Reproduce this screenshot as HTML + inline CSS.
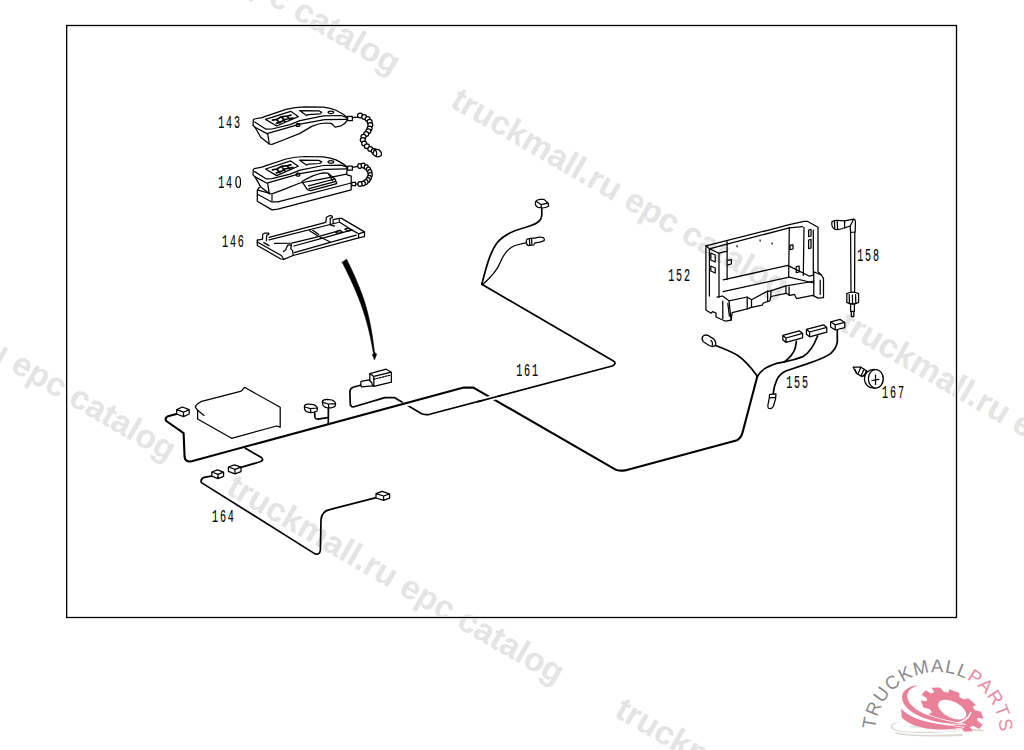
<!DOCTYPE html>
<html><head><meta charset="utf-8"><title>EPC diagram</title>
<style>
html,body{margin:0;padding:0;background:#fff;width:1024px;height:750px;overflow:hidden}
svg{position:absolute;left:0;top:0}
.wm{font-family:"Liberation Sans",sans-serif;font-weight:bold;font-size:33.3px;fill:#e4e4e4}
.lbl{font-family:"Liberation Mono",monospace;font-size:18px;letter-spacing:3.3px;fill:#000;stroke:#000;stroke-width:0.15px}
.k{fill:none;stroke:#000;stroke-width:1.25;stroke-linejoin:round;stroke-linecap:round}
.w{fill:none;stroke:#000;stroke-width:2.1;stroke-linejoin:round;stroke-linecap:round}
.w2{fill:none;stroke:#000;stroke-width:1.7;stroke-linejoin:round;stroke-linecap:round}
.kf{fill:#fff;stroke:#000;stroke-width:1.25;stroke-linejoin:round}
.gap{fill:none;stroke:#fff;stroke-width:5;stroke-linecap:butt}
</style></head>
<body>
<svg width="1024" height="750" viewBox="0 0 1024 750">
<g id="wms">
<text transform="translate(224.8,492.7) rotate(30.1)" class="wm">truckmall.ru epc catalog</text>
<text transform="translate(449.0,106.0) rotate(30.1)" class="wm">truckmall.ru epc catalog</text>
<text transform="translate(60.6,-117.0) rotate(30.1)" class="wm">truckmall.ru epc catalog</text>
<text transform="translate(-163.6,269.7) rotate(30.1)" class="wm">truckmall.ru epc catalog</text>
<text transform="translate(837.4,329.0) rotate(30.1)" class="wm">truckmall.ru epc catalog</text>
<text transform="translate(613.2,715.7) rotate(30.1)" class="wm">truckmall.ru epc catalog</text>
</g>
<rect x="66.65" y="25.5" width="889.85" height="592" fill="none" stroke="#fff" stroke-width="3.4"/>
<rect x="66.65" y="25.5" width="889.85" height="592" fill="none" stroke="#000" stroke-width="1.3"/>
<g id="labels">
<text transform="translate(218.2,128.1) scale(0.56,1)" class="lbl">143</text>
<text transform="translate(218.2,187.6) scale(0.56,1)" class="lbl">14</text>
<text transform="translate(222.0,246.5) scale(0.56,1)" class="lbl">146</text>
<text transform="translate(668.2,280.5) scale(0.56,1)" class="lbl">152</text>
<text transform="translate(857.2,261.4) scale(0.56,1)" class="lbl">158</text>
<text transform="translate(516.2,376.4) scale(0.56,1)" class="lbl">161</text>
<text transform="translate(786.2,387.6) scale(0.56,1)" class="lbl">155</text>
<text transform="translate(882.1,398.3) scale(0.56,1)" class="lbl">167</text>
<text transform="translate(212.0,521.6) scale(0.56,1)" class="lbl">164</text>
<ellipse cx="238.2" cy="182" rx="2.3" ry="5.5" fill="none" stroke="#000" stroke-width="1.2"/>
</g>
<g id="diagram">
<path class="w2" d="M360.5,385.3 L353,387.2 Q349.8,388.8 349.9,392 L350.3,404.5 Q351,407.6 354,406.7 L384.9,397.6 L394.3,397.6 L421.2,413.6 Q424,415 429.6,414.3 L612.2,366 Q617.5,363.5 613,360.8 L481.8,284.3" />
<path d="M398,406.3 L412,402.5" stroke="#fff" stroke-width="5" fill="none"/>
<path class="w" d="M177.3,413.8 L168,416.3 Q164.3,418 166.3,421 L183.6,433.2 L184.6,457 Q185.3,462.2 190.8,461.4 L463.7,387.6 L473.4,387.6 L615.6,469.6 Q618.2,471 625,470.4 L736.2,440.6 Q741.6,438 742.8,431.5 L757.3,376.4" />
<path d="M482,400.6 L498,396.3" stroke="#fff" stroke-width="5" fill="none"/>
<path class="w2" d="M478,401.6 L502,395.2" />
<path class="w2" d="M481.8,284.3 C486,268 490,252 497,243 C503,235 512,231 525,227.5 C535,224.5 541.5,222 541.8,215 L541.8,208.2" />
<path class="k" d="M482.5,284.8 C490,278 497,271 500,263 C504,253 508,248 515,245.5 L526.5,242.6" stroke-width="1.3"/>
<path class="kf" d="M535.6,201.6 Q537,199.6 540,199.4 L544,199.4 L548.2,203.2 L548.6,206.2 Q546,207.8 542,208 L538,207.4 Q535.2,206 535.4,203.6 Z M536.6,201.6 L541,204.6 L547.8,203.2 M541,204.6 L541.4,208" />
<path class="kf" d="M526.4,240 Q527,238.6 529,238.6 L532.6,238.2 L535,238.2 Q538,237 540,237 L543,237.6 Q545,239 544.2,240.6 L540,242.2 L535,242.8 L533.8,245 L528.4,245.6 Q526.2,244.6 526.4,242 Z M529.4,238.8 L529.8,245.4 M531.6,238.6 L532,245.2" />
<path class="w2" d="M212.6,475.8 L204.2,477.4 Q200.2,479 201.4,482.6 L314.6,553.6 Q319.8,555.4 320.4,550 L321,520 Q321.6,511.2 329.6,509.6 L377.2,497.4" />
<path class="w2" d="M245.4,448.2 L261.4,457.6 Q264.4,460.4 260.2,461.8 L240,467.6" />
<path class="kf" d="M176.7,409.6 L182.4,407.0 L189.2,409.6 L189.2,414.0 L183.5,416.6 L176.7,414.0 Z M176.7,409.6 L183.5,412.2 L189.2,409.6 M183.5,412.2 L183.5,416.6" />
<path class="kf" d="M211.8,472.0 L217.4,469.8 L223.6,472.2 L223.6,476.4 L218.0,478.6 L211.8,476.2 Z M211.8,472.0 L218.0,474.4 L223.6,472.2 M218.0,474.4 L218.0,478.6" />
<path class="kf" d="M228.4,467.0 L234.4,464.8 L241.0,467.2 L241.0,471.6 L235.0,473.8 L228.4,471.4 Z M228.4,467.0 L235.0,469.4 L241.0,467.2 M235.0,469.4 L235.0,473.8" />
<path class="kf" d="M376.0,493.6 L382.0,491.4 L389.6,493.8 L389.6,498.2 L383.6,500.4 L376.0,498.0 Z M376.0,493.6 L383.6,496.0 L389.6,493.8 M383.6,496.0 L383.6,500.4" />
<path class="kf" d="M304.4,406.2 Q305,404 308.4,404.2 L313.6,404.6 Q317.4,406.2 317.4,408.6 L317,411 Q314,412.8 310,412.6 L306.6,411.6 Q304,410.2 304.4,406.2 Z M305,407 L310.4,408.6 L317.2,408 M310.4,408.6 L310.8,412.4" />
<path class="kf" d="M322.4,401.4 Q323.4,399.4 327,399.4 L332,400 Q335.8,401.8 335.6,404.2 L335,406.4 Q332,408.2 328,408 L325,407.2 Q322.2,405.6 322.4,401.4 Z M323,402.4 L328.4,404 L335.4,403.6 M328.4,404 L328.8,407.8" />
<path class="w2" d="M314.6,412.6 L314.9,417.4 Q315.4,419.4 318,419.2 L327.6,417.6" />
<path class="w2" d="M328.4,408 L328.3,423.4" />
<path class="kf" d="M369.8,373.6 L386.2,369.2 L391.4,372.2 L391.4,382.2 L373.8,386.4 L369.8,383.4 Z M369.8,373.6 L373.8,376.4 L391.4,372.2 M373.8,376.4 L373.8,386.4" />
<path class="k" d="M373.8,379.2 L391,375" stroke-dasharray="1.6,1.4" stroke-width="0.9"/>
<path class="kf" d="M361,381.4 L369,379.8 L372,383 L372.4,385.8 L361.4,386.8 Q360.2,385 361,381.4 Z" />
<path class="k" d="M342.2,262.2 L346.6,259.2 C352.5,271 358,283 362.6,296 C367.6,310 371.8,328 374.5,352.5 L373.3,352.6 C369.8,331 364.6,313 358.6,298 C353.6,285 347.6,273 342.2,262.2 Z" style="fill:#000;stroke-width:0.6"/>
<path class="k" d="M372.4,354.4 L374.6,352.2 L376.6,354.2 L374.6,359.6 Z" style="fill:#000;stroke-width:0.6"/>
<path class="k" d="M253.3,120 L254.2,119 L262,117.6 L265.3,116.3 L286,109.4 C292,107.8 298,107 305,106.9 L323.4,107.2 C329,107.8 333,109 336,110.3 C340,112.4 344,114.6 347.2,117.4 L347,120.6 C346,122.6 344,124.4 341,125.8 L335.2,127.2 C333.6,125.6 332.4,123.8 331,123.4 L325.2,123 C321,123.2 317,124 311.7,126.4 L300,133.4 L283.3,140 L272,144.3 L269.3,144 L260.7,137.3 L255,127.3 L253,125.3 Z" transform="translate(0,0)"/>
<path class="k" d="M254.7,122 L266,129.2 L272,129 L290,124.6 L300,120.6 L323.4,115.9 L341,115.5 L347,117.6" transform="translate(0,0)"/>
<path class="k" d="M255,127.3 L267,133.6 L300,124.1 L324.6,119.7 L347,119.3" transform="translate(0,0)"/>
<path class="k" d="M267.7,134 L269.3,144" transform="translate(0,0)"/>
<path class="k" d="M265.5,119.4 L290.7,111.3 L298.2,116.6 L276.7,126 Z" transform="translate(0,0)"/>
<path class="k" d="M272.4,120.2 L276.8,119.4 L281.2,116.8 L287.4,116 L291,115.2 M276.4,123.4 L282,121.4 L284.6,119.4 L293,118 M276.6,119.6 L280,123 M281.6,117 L285,121.4 M286.8,116.2 L289.8,119.2" transform="translate(0,0)" style="stroke-width:1.7"/>
<path class="k" d="M299.6,110.6 L318.7,110.8 L321.7,112.3 L319.9,113.9 L308.2,114.6 L306.4,115.5 Z" transform="translate(0,0)"/>
<ellipse class="k" cx="330.9" cy="112.3" rx="2.8" ry="1.2"/>
<rect class="k" x="296.2" y="123.6" width="3.6" height="2.8" rx="1"/>
<rect class="kf" x="347.6" y="116.4" width="4.8" height="4.2"/>
<path class="k" d="M352.4,117.6 L357.6,117.2"/>
<ellipse class="kf" cx="360.1" cy="115.5" rx="2.5" ry="2.4"/>
<ellipse class="kf" cx="364.2" cy="116.9" rx="2.5" ry="2.4"/>
<ellipse class="kf" cx="367.6" cy="118.9" rx="2.5" ry="2.4"/>
<ellipse class="kf" cx="369.6" cy="121.7" rx="2.5" ry="2.4"/>
<ellipse class="kf" cx="370.3" cy="125.1" rx="2.5" ry="2.4"/>
<ellipse class="kf" cx="369.6" cy="128.5" rx="2.5" ry="2.4"/>
<ellipse class="kf" cx="368.3" cy="131.2" rx="2.5" ry="2.4"/>
<ellipse class="kf" cx="366.2" cy="134" rx="2.5" ry="2.4"/>
<ellipse class="kf" cx="363.5" cy="136.7" rx="2.5" ry="2.4"/>
<ellipse class="kf" cx="362.8" cy="140.1" rx="2.5" ry="2.4"/>
<ellipse class="kf" cx="364.2" cy="143.5" rx="2.5" ry="2.4"/>
<ellipse class="kf" cx="366.9" cy="146.3" rx="2.5" ry="2.4"/>
<ellipse class="kf" cx="370.3" cy="149" rx="2.5" ry="2.4"/>
<ellipse class="kf" cx="373.7" cy="151.1" rx="2.5" ry="2.4"/>
<path class="kf" d="M374.4,149.2 L378.6,149.6 Q382.4,152 381.2,155.6 Q379,157.4 376,156.4 L372.8,154.2 Z M374.6,149.6 Q377.8,151.6 376.2,156"/>
<path class="k" d="M253.3,120 L254.2,119 L262,117.6 L265.3,116.3 L286,109.4 C292,107.8 298,107 305,106.9 L323.4,107.2 C329,107.8 333,109 336,110.3 C340,112.4 344,114.6 347.2,117.4 L347,121.4 L346.6,124.6 L320,129.8 L300,133.4 L283.3,140 L272,144.3 L269.3,144 L260.7,137.3 L255,127.3 L253,125.3 Z" transform="translate(0,49.6)"/>
<path class="k" d="M254.7,122 L266,129.2 L272,129 L290,124.6 L300,120.6 L323.4,115.9 L341,115.5 L347,117.6" transform="translate(0,49.6)"/>
<path class="k" d="M255,127.3 L267,133.6 L300,124.1 L324.6,119.7 L347,119.3" transform="translate(0,49.6)"/>
<path class="k" d="M267.7,134 L269.3,144" transform="translate(0,49.6)"/>
<path class="k" d="M265.5,119.4 L290.7,111.3 L298.2,116.6 L276.7,126 Z" transform="translate(0,49.6)"/>
<path class="k" d="M272.4,120.2 L276.8,119.4 L281.2,116.8 L287.4,116 L291,115.2 M276.4,123.4 L282,121.4 L284.6,119.4 L293,118 M276.6,119.6 L280,123 M281.6,117 L285,121.4 M286.8,116.2 L289.8,119.2" transform="translate(0,49.6)" style="stroke-width:1.7"/>
<path class="k" d="M299.6,110.6 L318.7,110.8 L321.7,112.3 L319.9,113.9 L308.2,114.6 L306.4,115.5 Z" transform="translate(0,49.6)"/>
<ellipse class="k" cx="330.9" cy="161.9" rx="2.8" ry="1.2"/>
<rect class="k" x="296.2" y="173.2" width="3.6" height="2.8" rx="1"/>
<rect class="kf" x="347.6" y="166.0" width="4.8" height="4.2"/>
<path class="k" d="M259.5,187.2 L257.3,190.2 L257.3,201.2 L272,209.9 L277.9,209.2 L351.2,189.8 L351.2,176.2 L346.8,174.7" />
<path class="k" d="M258,194.5 L271.3,201.8 L277.9,201.8 L351.2,183" />
<path class="k" d="M258,190.2 L269.8,193.4" />
<path class="k" d="M272,195.2 L272,200.4" stroke-dasharray="1.5,1"/>
<path class="k" d="M302,181.6 C308,177.6 315,174.4 323,172.8 L328,173.2 L335,179 L336.8,183.6 L310.6,190.6 L307.4,189.6 Z M308.6,185.8 L334.6,179 M309,188.6 L336,181.4 M328,173.2 L332.6,180.6" />
<path class="k" d="M352.6,167.4 L357.6,166.4 M355.5,184.2 L358,184"/>
<ellipse class="kf" cx="359.8" cy="166" rx="2.1" ry="2.4"/>
<ellipse class="kf" cx="363.3" cy="165.6" rx="2.1" ry="2.4"/>
<ellipse class="kf" cx="366.3" cy="167.3" rx="2.1" ry="2.4"/>
<ellipse class="kf" cx="368.5" cy="169.5" rx="2.1" ry="2.4"/>
<ellipse class="kf" cx="369.8" cy="172.1" rx="2.1" ry="2.4"/>
<ellipse class="kf" cx="370.2" cy="175.1" rx="2.1" ry="2.4"/>
<ellipse class="kf" cx="369.3" cy="177.7" rx="2.1" ry="2.4"/>
<ellipse class="kf" cx="368" cy="179.9" rx="2.1" ry="2.4"/>
<ellipse class="kf" cx="365.9" cy="182.1" rx="2.1" ry="2.4"/>
<ellipse class="kf" cx="363.2" cy="183.4" rx="2.1" ry="2.4"/>
<ellipse class="kf" cx="360" cy="183.9" rx="2.1" ry="2.4"/>
<rect class="kf" x="351.8" y="182.4" width="3.8" height="3.2"/>
<path class="k" d="M257.3,240.2 L257.3,245.5 L280.8,259 L283.7,259.3 L293.1,255.5 L358.6,237.8 L364.5,236.6 L364.5,231.9 L341.6,218.4 L339.3,218.4 L333.1,219.6 L333.1,223.4" />
<path class="k" d="M257.3,240.2 L262.6,239.1 L262.6,234.4 L264.4,233.2 L268.8,233.2 L268.8,234.4 L266.7,235.3 L266.4,240.6" />
<path class="k" d="M257.3,242 L281.4,255.5 L283.7,259.3 M263.8,242.6 L269,245.6" />
<path class="k" d="M269.1,237.4 L325.8,222.4 L326.4,217.3 L329.9,215.5 L332.3,216.1 L332.3,217.6 L330.2,218.4 L330.2,224.9 L334.6,226.1" />
<path class="k" d="M269.1,239.8 L338.1,222.5" />
<path class="k" d="M339.3,219.6 L339.3,222 L351,229.6 L358.6,233.8 L364.5,231.9 M358.6,233.8 L358.6,237.8" />
<path class="k" d="M274.6,243.4 L291.7,243.1 L314.6,237.6 L340.4,230.4" />
<path class="k" d="M294,246 L324.5,237.6 L352.2,229.8" />
<path class="k" d="M294.2,252.6 L340,239.6 L356.2,235.2" />
<path class="k" d="M309.3,230.5 L317.5,235.8 L329.8,241.7 M312.8,230.3 L318.7,234.6" />
<path class="k" d="M283.4,251.6 L285.6,250 L287.6,245.2 L291.6,244.8 L290.6,248.6 L292.6,250.6 L293.1,255.5" />
<path class="k" d="M335.8,232.6 Q337,230.2 339.6,230.4 L342.2,231.8 Q341.4,233.4 338,233.2 Z" />
<path class="k" d="M344.8,229.2 L348,228.2 L351.2,229.8 L348.6,231.2 Z" />
<path class="k" d="M195.3,407.2 C196,404 199,402.6 201.7,401.4 L240.4,391.4 L242.2,390.2 L244.5,387.3 L280.2,407.2 L280.2,427.2 L276.7,426 L231.6,438.3 L197.6,419 L197.6,410.2 Z" />
<path class="k" d="M197.6,410.2 L204.1,415.4" /><path class="k" d="M705.9,245.8 L769.7,229.8 L789.3,224.7 L804,221.3 L807.3,221.3 L818,227.3 L818,271.6 L821.3,275 L823.5,278.3 L823.5,297.6 L818.1,298.1 L812.7,295.4 L796.6,298.7 L794.5,294.4 L790.2,295.4 L785.9,293.3 L770.9,296.5 L769.8,300.8 L763.3,303 L762.3,305.1 L751.5,307.3 L747.2,308.9 L732.2,312.6 L731.1,320.1 L725.7,321.2 L716,317 L716,313 L712.6,311.6 L711,313.2 L705.9,310 Z" />
<path class="k" d="M709.4,248.8 L727.1,244.2 L789.3,227.8 L802.7,226.7" />
<path class="k" d="M727.1,241.6 L727.1,279.6 M789.3,227.3 L788.7,276.7 M804,227.3 L803.3,275.3 M813.3,230 L813.3,274" />
<path class="k" d="M706,245.8 L709.4,248.8 L709.4,296 M719,253.2 L719,297.2 M709.4,248.8 L719,253.2 M719,253.2 L727.1,251.2" />
<path class="k" d="M723.1,279.9 L788,265.4 M723.1,291.7 L789.1,277.2 L809.5,282 L813.8,281 M788.2,265.6 L809.5,276.2 L813.4,275.2" />
<path class="k" d="M729,300.8 L747.2,297 L751.5,299.7 L767.6,291.1 L769.8,291.1 L785.9,285.8 L809.5,282 L813.8,283" />
<path class="k" d="M717.1,297.1 L722.5,296 L729,300.8 L731.1,320.1 M729,300.8 L729.6,305.6" />
<path class="k" d="M747.2,297 L747.2,308.9 M751.5,299.7 L751.5,307.3 M767.6,291.1 L767.6,300.8 M770.9,291.1 L770.9,296.5 M785.9,285.8 L785.9,293.3 M789.1,286.9 L789.1,295.4" />
<path class="k" d="M722.8,301 L722.8,318.4 M727.8,303.4 L729.4,316" />
<path class="k" d="M813.8,271.8 L821.3,275 M813.8,271.8 L813.8,295.4 M820.2,280 L820.2,294.4" />
<path class="k" d="M710.8,253 L715.2,255 L715.2,262 L710.8,260 Z M710.8,266 L715.2,268 L715.2,273 L710.8,271 Z" />
<path class="k" d="M808.6,230 L811,229.4 L811,236 L808.6,236.6 Z M808.6,240 L811,239.4 L811,248 L808.6,248.6 Z" />
<path class="k" d="M790,245.4 L793,244.8 L793,249 L790,249.6 Z M737,245.6 L737.2,246.8 M760,240 L760.2,241 M772,243 L772.2,244" />
<path class="k" d="M727.8,260.4 L731.4,259.6 L731.4,264 L727.8,264.8 M796.2,266.6 L796.2,272.6 L799.2,272 L799.2,266 Z" />
<path class="kf" d="M831.8,222 Q833.6,220.2 837,220.4 L844.6,220.8 L853.6,219.2 Q855.6,219.6 855.4,221.4 L855.2,232 L850.6,232.4 L850.2,226 L844.6,227.8 Q840,230 835.4,229.4 Q831.4,228.4 831.8,222 Z" />
<path class="k" d="M834.4,221 L834.8,228.8 M837.2,220.6 L837.6,229.2 M844.6,220.8 L844.6,227.8 M850.2,226 L853.6,219.2" />
<path class="k" d="M850.6,232.4 L851,292.2 M854.8,232 L854.6,292.2" />
<path class="kf" d="M846.8,293.6 Q852.6,290.6 858.6,293.6 L858.6,302.4 Q852.6,305.6 846.8,302.4 Z" />
<path class="k" d="M849.2,294.6 L849.4,303.6 M852.4,295 L852.6,304.2 M855.6,294.6 L855.8,303.6" />
<path class="k" d="M850.6,304 L850.6,311.4 L854.4,311.4 L854.4,304 M851.2,311.4 L851.4,316.6 L853.8,316.6 L853.8,311.4" />
<path class="w2" d="M714.8,345.2 C722,348 730,351 737.4,355.2 C744,359.6 750,366 757.4,376.2" />
<path class="w2" d="M757.4,376.4 C761,370 766,367 776.7,363.4 L784.3,361.9 C789,358.6 793,354.6 795.2,348.3 L796.4,341.4" />
<path class="w2" d="M784.3,361.9 C792,360.4 798,358.6 803,356.6 C809,353 813.6,346.6 817.6,336" />
<path class="w2" d="M837.3,329.4 L837.3,342.2 C836.6,346.6 834.6,350 830.6,353.6 C826,357 820,359.4 808.5,363.4 L785.8,371 C781,373.2 778.4,376 776.6,380.4 C775,384 773.6,389 773.2,394" />
<path class="kf" d="M782.8,335.4 L799.4,330.8 L802.6,333.4 L802.6,337.8 L786.0,342.4 L782.8,339.8 Z M782.8,335.4 L786.0,338.0 L802.6,333.4 M786.0,338.0 L786.0,342.4" />
<path class="kf" d="M806.4,329.4 L823.6,324.8 L826.8,327.4 L826.8,332.2 L809.6,336.8 L806.4,334.2 Z M806.4,329.4 L809.6,332.0 L826.8,327.4 M809.6,332.0 L809.6,336.8" />
<path class="kf" d="M830.6,321.8 L840.2,319.4 L844.8,322.4 L844.8,327.6 L835.2,330.0 L830.6,327.0 Z M830.6,321.8 L835.2,324.8 L844.8,322.4 M835.2,324.8 L835.2,330.0" />
<path class="kf" d="M702.6,336.6 Q704.6,334.2 708,335.4 L714.2,339.4 Q716.6,342.6 715.2,345.6 Q713,347.4 709.6,345.8 L703.4,341.8 Q701.2,339.4 702.6,336.6 Z M710.4,340.4 Q713.2,341.4 712.2,345.8" />
<path class="kf" d="M769.6,394.4 L776,393.8 L775.6,398.8 L773.4,406.2 Q771.4,409.6 768.4,408.2 Q767.2,406.4 768.2,403.6 L769.2,398.4 Z M769.4,397.8 L775.8,397.4" />
<path class="kf" d="M853.2,367.2 L860.9,367.2 L864.1,369.2 L867.4,371.4 L868.6,371.8 L862,376.6 L856.4,373.2 Z" />
<path class="k" d="M860.9,367.2 L858,373.8 M864.1,369.2 L861.2,375.4 M866.4,370.4 L864,376.6 M855,369.4 L856.4,372.6" />
<circle class="kf" cx="873.8" cy="378.8" r="9.4"/>
<ellipse class="kf" cx="875.8" cy="378.8" rx="7.4" ry="9.3"/>
<path class="k" d="M875.5,375 L875.5,384.6 M872,380.5 L878.8,379.4" />
</g>
<g id="logo">
<defs><path id="arc" d="M874.92,729.55 A62.7,62.7 0 0 1 1000.00,731.30"/></defs>
<text font-family="Liberation Sans, sans-serif" font-size="18.5" fill="#8a8a8a"><textPath href="#arc" textLength="188.2" lengthAdjust="spacing">TRUCKMALL<tspan fill="#ec8aa2">PARTS</tspan></textPath></text>
<path d="M902.2,721.2 C896,722.4 892,724.6 892.6,727 C893.6,730 900,731.2 912,731.8 L940,731.8 C950,731.4 958,730.8 966,730 C956,731.6 940,733 920,733 C902,733 893,731 890.8,727.6 C889.6,724.2 895,721.8 902.2,721.2 Z" fill="#d8d9d2"/>
<path d="M896,733 C905,735.4 930,736.2 962,735" stroke="#d8d9d2" stroke-width="1.8" fill="none" stroke-linecap="round"/>
<path d="M911,726.6 C930,727.6 945,728.4 962,728.6" stroke="#d8d9d2" stroke-width="1.6" fill="none" stroke-linecap="round" opacity="0.8"/>
<path d="M972,729.6 L983,730.6" stroke="#d8d9d2" stroke-width="1.6" fill="none" stroke-linecap="round"/>
<path d="M26.99,-5.28 L27.36,-2.75 L33.97,-1.36 L32.68,9.40 L25.93,9.17 L24.94,11.59 L23.75,13.86 L28.28,18.87 L20.91,26.81 L15.58,22.66 L13.36,24.04 L11.07,25.18 L11.79,31.89 L1.16,33.98 L-0.71,27.49 L-3.32,27.30 L-5.84,26.87 L-9.21,32.73 L-19.03,28.17 L-16.73,21.82 L-18.73,20.13 L-20.52,18.30 L-26.69,21.07 L-31.96,11.60 L-26.36,7.82 L-26.99,5.28 L-27.36,2.75 L-33.97,1.36 L-32.68,-9.40 L-25.93,-9.17 L-24.94,-11.59 L-23.75,-13.86 L-28.28,-18.87 L-20.91,-26.81 L-15.58,-22.66 L-13.36,-24.04 L-11.07,-25.18 L-11.79,-31.89 L-1.16,-33.98 L0.71,-27.49 L3.32,-27.30 L5.84,-26.87 L9.21,-32.73 L19.03,-28.17 L16.73,-21.82 L18.73,-20.13 L20.52,-18.30 L26.69,-21.07 L31.96,-11.60 L26.36,-7.82 Z M15.2,0 A15.2,15.2 0 1 0 -15.2,0 A15.2,15.2 0 1 0 15.2,0 Z" fill="#e98199" fill-rule="evenodd" transform="translate(952.2,709.6) rotate(27) scale(1,0.53)"/>
<path d="M942,724.6 C958,725 968,721.4 971,712" stroke="#fff" stroke-width="1.6" fill="none"/>
<path d="M918.4,685.2 C911,685.4 904.2,689 902.4,694.6 C900.8,700.6 904.6,707 912,712 C922,718.6 936,722.4 950,723.6 L966,724.6 C952,722.2 938,719.2 926,714.4 C915.6,710.2 909,704.4 907.4,698 C906.4,692.4 910.4,687.4 918.4,685.2 Z" fill="#e98199" stroke="#fff" stroke-width="1.4" paint-order="stroke"/>
<path d="M901.2,708.6 C905,713.2 912,717.4 922,720.6 C934,724 948,725.8 964,727.4 C950,729.6 936,730.4 924,728 C913,725.6 905,721.6 901.6,717 Z" fill="#e98199" stroke="#fff" stroke-width="1.2" paint-order="stroke"/>
</g>
</svg>
</body></html>
